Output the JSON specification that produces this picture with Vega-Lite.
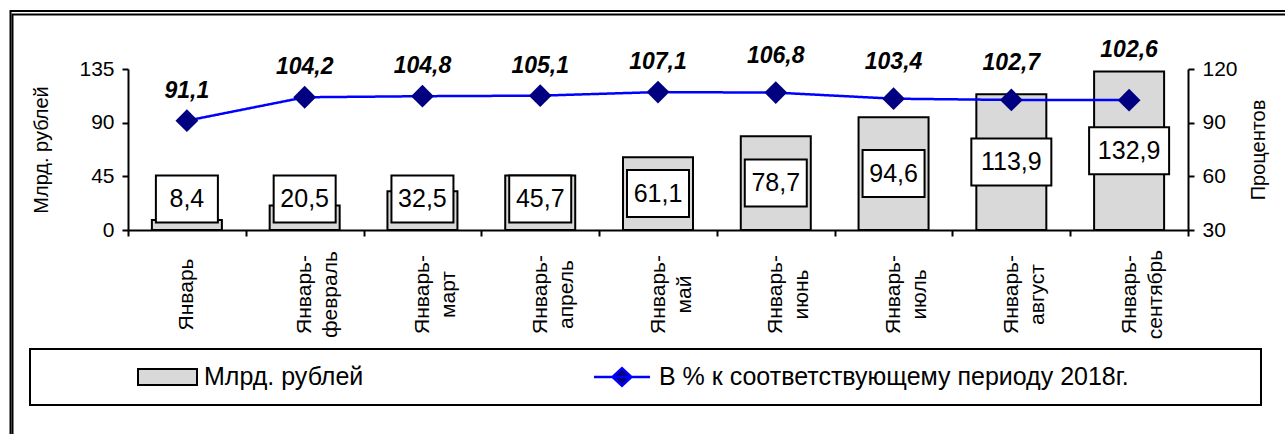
{
  "$schema": "https://vega.github.io/schema/vega-lite/v6.json",
  "width": 1060,
  "height": 161,
  "autosize": {"type": "none"},
  "padding": {"left": 128, "top": 69, "right": 97, "bottom": 204},
  "background": "white",
  "config": {
    "font": "Liberation Sans",
    "view": {"stroke": null},
    "locale": {"number": {"decimal": ",", "thousands": " ", "grouping": [3], "currency": ["", ""]}},
    "legend": {"strokeWidth": 2},
    "axis": {
      "domainColor": "black", "domainWidth": 2, "tickColor": "black", "tickWidth": 2, "tickSize": 6,
      "labelColor": "black", "labelFont": "Liberation Sans", "labelFontSize": 21,
      "titleFont": "Liberation Sans", "titleFontSize": 20, "titleFontWeight": "normal", "titleColor": "black",
      "grid": false
    }
  },
  "data": {"values": [
    {"period": "Январь", "value": 8.4, "pct": 91.1},
    {"period": "Январь-февраль", "value": 20.5, "pct": 104.2},
    {"period": "Январь-март", "value": 32.5, "pct": 104.8},
    {"period": "Январь-апрель", "value": 45.7, "pct": 105.1},
    {"period": "Январь-май", "value": 61.1, "pct": 107.1},
    {"period": "Январь-июнь", "value": 78.7, "pct": 106.8},
    {"period": "Январь-июль", "value": 94.6, "pct": 103.4},
    {"period": "Январь-август", "value": 113.9, "pct": 102.7},
    {"period": "Январь-сентябрь", "value": 132.9, "pct": 102.6}
  ]},
  "transform": [
    {"calculate": "max(datum.value / 2, 26)", "as": "mid"},
    {"calculate": "datum.mid - 19.7", "as": "boxLo"},
    {"calculate": "datum.mid + 19.7", "as": "boxHi"}
  ],
  "encoding": {
    "x": {
      "field": "period", "type": "nominal", "sort": null,
      "scale": {"paddingInner": 0, "paddingOuter": 0},
      "axis": {
        "title": null, "tickBand": "extent", "labelAngle": 270, "labelAlign": "center", "labelBaseline": "middle",
        "labelPadding": 58, "labelFontSize": 21, "labelLineHeight": 26, "labelOverlap": false, "labelBound": false, "labelFlush": false,
        "labelExpr": "isValid(datum.value) ? (datum.value == 'Январь' ? datum.value : ['Январь-', substring(datum.value, 7)]) : ''"
      }
    }
  },
  "layer": [
    {
      "layer": [
        {
          "mark": {"type": "bar", "width": 70, "stroke": "black", "strokeWidth": 2},
          "encoding": {
            "y": {
              "field": "value", "type": "quantitative",
              "scale": {"domain": [0, 135], "nice": false, "zero": true},
              "axis": {"values": [0, 45, 90, 135], "title": "Млрд. рублей", "titleAngle": 270, "titleX": -87, "titleY": 80.5, "titleAlign": "center", "titleBaseline": "middle", "labelPadding": 8, "labelFontSize": 21}
            },
            "fill": {
              "datum": "Млрд. рублей",
              "scale": {"domain": ["Млрд. рублей"], "range": ["#d9d9d9"]},
              "legend": {
                "orient": "none", "legendX": -98, "legendY": 280, "direction": "horizontal",
                "title": " ", "titleOrient": "right", "titleFontSize": 1, "titlePadding": 883,
                "padding": 15, "strokeColor": "black", "clipHeight": 26,
                "symbolType": "M-1,-0.27H1V0.27H-1Z", "symbolSize": 3481, "symbolStrokeColor": "black", "symbolStrokeWidth": 2,
                "symbolOffset": 92, "labelOffset": 6,
                "labelFontSize": 25, "labelColor": "black", "labelFont": "Liberation Sans", "labelLimit": 0
              }
            }
          }
        },
        {
          "mark": {"type": "bar", "fill": "white", "stroke": "black", "strokeWidth": 2},
          "encoding": {
            "y": {
              "field": "boxLo", "type": "quantitative",
              "axis": {"values": [0, 45, 90, 135], "title": "Млрд. рублей", "titleAngle": 270, "titleX": -87, "titleY": 80.5, "titleAlign": "center", "titleBaseline": "middle", "labelPadding": 8, "labelFontSize": 21}
            },
            "y2": {"field": "boxHi"},
            "size": {"condition": {"test": "datum.value >= 100", "value": 80}, "value": 62}
          }
        },
        {
          "mark": {"type": "text", "fontSize": 25, "baseline": "middle", "align": "center", "color": "black"},
          "encoding": {
            "y": {
              "field": "mid", "type": "quantitative",
              "axis": {"values": [0, 45, 90, 135], "title": "Млрд. рублей", "titleAngle": 270, "titleX": -87, "titleY": 80.5, "titleAlign": "center", "titleBaseline": "middle", "labelPadding": 8, "labelFontSize": 21}
            },
            "text": {"field": "value", "type": "quantitative", "format": ".1f"}
          }
        }
      ]
    },
    {
      "layer": [
        {
          "mark": {"type": "line", "strokeWidth": 2.5},
          "encoding": {
            "y": {
              "field": "pct", "type": "quantitative",
              "scale": {"domain": [30, 120], "nice": false, "zero": false},
              "axis": {"orient": "right", "values": [30, 60, 90, 120], "title": "Процентов", "titleAngle": 270, "titleX": 70, "titleY": 80.5, "titleAlign": "center", "titleBaseline": "middle", "labelPadding": 8, "labelFontSize": 21}
            },
            "stroke": {
              "datum": "В % к соответствующему периоду 2018г.",
              "scale": {"domain": ["В % к соответствующему периоду 2018г."], "range": ["#0000ff"]},
              "legend": {
                "orient": "none", "legendX": 463, "legendY": 295, "direction": "horizontal",
                "title": null, "padding": 0, "strokeColor": null, "clipHeight": 26,
                "symbolType": "M-0.95,0H0.95M-0.32,0L0,-0.3L0.32,0L0,0.3Z", "symbolSize": 3481, "symbolStrokeWidth": 2.5,
                "symbolFillColor": "#000080", "labelOffset": 6,
                "labelFontSize": 25, "labelColor": "black", "labelFont": "Liberation Sans", "labelLimit": 0
              }
            },
            "strokeDash": {
              "datum": "frame2",
              "scale": {"domain": ["frame2"], "range": [[1, 0]]},
              "legend": {
                "orient": "none", "legendX": -115.5, "legendY": -54.5, "padding": 700, "strokeColor": "black", "title": null,
                "labelExpr": "''", "labelOpacity": 0, "symbolOpacity": 0, "symbolSize": 1
              }
            }
          }
        },
        {
          "mark": {"type": "point", "filled": true, "size": 520, "fill": "#000080", "opacity": 1},
          "encoding": {
            "y": {
              "field": "pct", "type": "quantitative",
              "axis": {"orient": "right", "values": [30, 60, 90, 120], "title": "Процентов", "titleAngle": 270, "titleX": 70, "titleY": 80.5, "titleAlign": "center", "titleBaseline": "middle", "labelPadding": 8, "labelFontSize": 21}
            },
            "shape": {
              "datum": "frame1",
              "scale": {"domain": ["frame1"], "range": ["diamond"]},
              "legend": {
                "orient": "none", "legendX": -117.5, "legendY": -58, "padding": 700, "strokeColor": "black", "title": null,
                "labelExpr": "''", "labelOpacity": 0, "symbolOpacity": 0, "symbolSize": 1
              }
            }
          }
        },
        {
          "transform": [{"filter": "datum.value < 70"}],
          "mark": {"type": "text", "fontSize": 23, "fontWeight": "bold", "fontStyle": "italic", "dy": -30, "color": "black", "baseline": "middle"},
          "encoding": {
            "y": {
              "field": "pct", "type": "quantitative",
              "axis": {"orient": "right", "values": [30, 60, 90, 120], "title": "Процентов", "titleAngle": 270, "titleX": 70, "titleY": 80.5, "titleAlign": "center", "titleBaseline": "middle", "labelPadding": 8, "labelFontSize": 21}
            },
            "text": {"field": "pct", "type": "quantitative", "format": ".1f"}
          }
        },
        {
          "transform": [{"filter": "datum.value >= 70 && datum.value < 120"}],
          "mark": {"type": "text", "fontSize": 23, "fontWeight": "bold", "fontStyle": "italic", "dy": -37, "color": "black", "baseline": "middle"},
          "encoding": {
            "y": {
              "field": "pct", "type": "quantitative",
              "axis": {"orient": "right", "values": [30, 60, 90, 120], "title": "Процентов", "titleAngle": 270, "titleX": 70, "titleY": 80.5, "titleAlign": "center", "titleBaseline": "middle", "labelPadding": 8, "labelFontSize": 21}
            },
            "text": {"field": "pct", "type": "quantitative", "format": ".1f"}
          }
        },
        {
          "transform": [{"filter": "datum.value >= 120"}],
          "mark": {"type": "text", "fontSize": 23, "fontWeight": "bold", "fontStyle": "italic", "dy": -50, "color": "black", "baseline": "middle"},
          "encoding": {
            "y": {
              "field": "pct", "type": "quantitative",
              "axis": {"orient": "right", "values": [30, 60, 90, 120], "title": "Процентов", "titleAngle": 270, "titleX": 70, "titleY": 80.5, "titleAlign": "center", "titleBaseline": "middle", "labelPadding": 8, "labelFontSize": 21}
            },
            "text": {"field": "pct", "type": "quantitative", "format": ".1f"}
          }
        }
      ]
    }
  ],
  "resolve": {"scale": {"y": "independent"}}
}
